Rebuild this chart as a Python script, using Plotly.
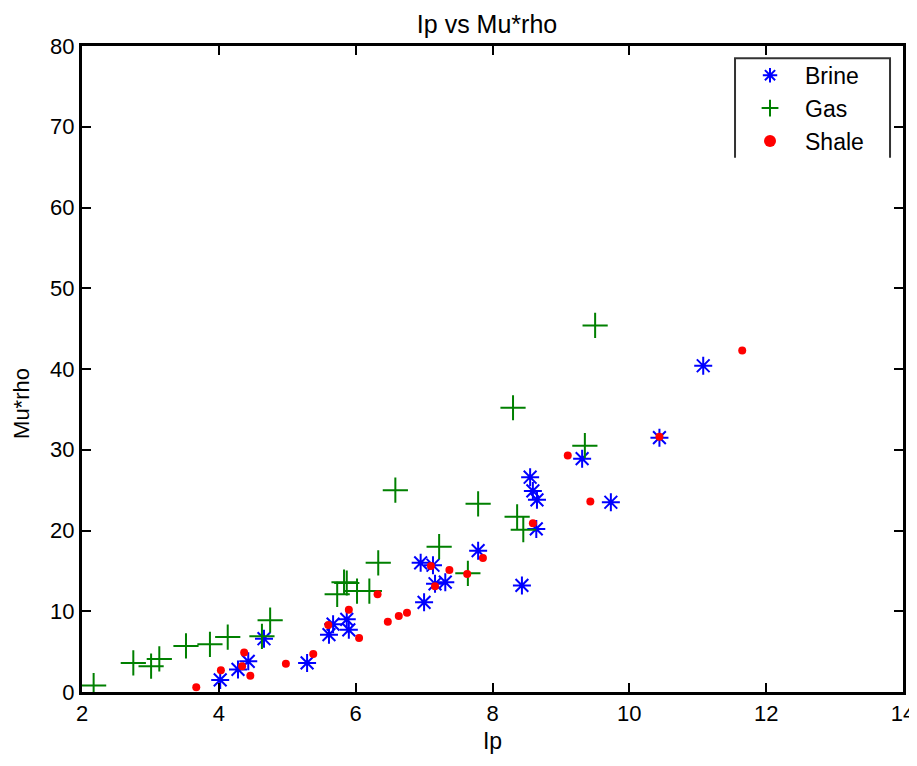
import plotly.graph_objects as go

# Data
brine_ip = [4.02, 4.28, 4.43, 4.66, 5.29, 5.61, 5.67, 5.87, 5.90, 6.95, 7.00, 7.13,
            7.16, 7.31, 7.79, 8.43, 8.55, 8.59, 8.65, 8.64, 9.31, 9.73, 10.44, 11.08]
brine_mu = [1.5, 2.8, 3.8, 6.6, 3.6, 7.1, 8.4, 9.0, 7.7, 16.0, 11.1, 15.7,
            13.4, 13.6, 17.5, 13.2, 26.6, 24.9, 23.8, 20.2, 28.9, 23.5, 31.5, 40.4]

gas_ip = [2.17, 2.75, 3.01, 3.13, 3.52, 3.87, 4.13, 4.63, 4.75, 5.73, 5.83, 5.87,
          6.02, 6.20, 6.33, 6.58, 7.22, 7.64, 7.79, 8.30, 8.36, 8.45, 9.35, 9.50]
gas_mu = [0.8, 3.6, 3.2, 4.1, 5.7, 5.9, 6.8, 6.9, 8.9, 12.1, 13.6, 13.5,
          12.5, 12.5, 16.0, 25.0, 18.0, 14.7, 23.3, 35.2, 21.7, 20.1, 30.5, 45.4]

shale_ip = [3.67, 4.03, 4.34, 4.37, 4.46, 4.98, 5.38, 5.60, 5.90, 6.05, 6.32, 6.47,
            6.63, 6.75, 7.10, 7.16, 7.37, 7.63, 7.86, 8.59, 9.10, 9.43, 10.44, 11.65]
shale_mu = [0.6, 2.7, 3.2, 4.9, 2.0, 3.5, 4.7, 8.3, 10.2, 6.7, 12.1, 8.7,
            9.4, 9.8, 15.6, 13.1, 15.1, 14.6, 16.6, 20.9, 29.3, 23.6, 31.6, 42.3]

x_ticks = [2, 4, 6, 8, 10, 12, 14]
y_ticks = [0, 10, 20, 30, 40, 50, 60, 70, 80]

FONT = "Liberation Sans, Arial, sans-serif"

fig = go.Figure()
fig.add_trace(go.Scatter(
    x=brine_ip, y=brine_mu, mode="markers", name="Brine",
    marker=dict(symbol="asterisk-open", size=15, color="#0000ff",
                line=dict(color="#0000ff", width=2)),
))
fig.add_trace(go.Scatter(
    x=gas_ip, y=gas_mu, mode="markers", name="Gas",
    marker=dict(symbol="cross-thin-open", size=18, color="#008000",
                line=dict(color="#008000", width=2)),
))
fig.add_trace(go.Scatter(
    x=shale_ip, y=shale_mu, mode="markers", name="Shale",
    marker=dict(symbol="circle", size=8, color="#ff0000", line=dict(width=0)),
))

axis_common = dict(
    showgrid=False, zeroline=False, showline=True, linecolor="black",
    linewidth=3, mirror="ticks", ticks="inside", ticklen=9, tickwidth=2,
    tickcolor="black", automargin=False,
    tickfont=dict(family=FONT, size=22, color="black"),
)

# page body adds an 8px offset; the plot area is placed to match the reference
fig.update_layout(
    width=909, height=750,
    margin=dict(l=74, r=14, t=38, b=66),
    paper_bgcolor="white", plot_bgcolor="white",
    title=dict(text="Ip vs Mu*rho", x=0.527, xanchor="center", y=0.99, yanchor="top",
               font=dict(family=FONT, size=25, color="black")),
    xaxis=dict(range=[2, 14], tickvals=x_ticks, ticktext=[str(v) for v in x_ticks],
               title=dict(text="Ip", font=dict(family=FONT, size=23, color="black"),
                          standoff=8),
               **axis_common),
    yaxis=dict(range=[0, 80], tickvals=y_ticks, ticktext=[str(v) for v in y_ticks],
               **axis_common),
    legend=dict(x=0.7954, xanchor="left", y=0.988, yanchor="top",
                bgcolor="rgba(0,0,0,0)", borderwidth=0,
                font=dict(family=FONT, size=23, color="black"),
                itemwidth=60, itemsizing="constant", tracegroupgap=0),
    shapes=[dict(type="path", xref="paper", yref="paper",
                 path="M 0.7954,0.827 L 0.7954,0.981 L 0.9842,0.981 L 0.9842,0.827",
                 line=dict(color="#333333", width=2), layer="below")],
    annotations=[dict(text="Mu*rho", xref="paper", yref="paper",
                      x=-0.073, y=0.446, xanchor="center", yanchor="middle",
                      textangle=-90, showarrow=False,
                      font=dict(family=FONT, size=22, color="black"))],
    showlegend=True,
)

fig.write_html("out.html")
